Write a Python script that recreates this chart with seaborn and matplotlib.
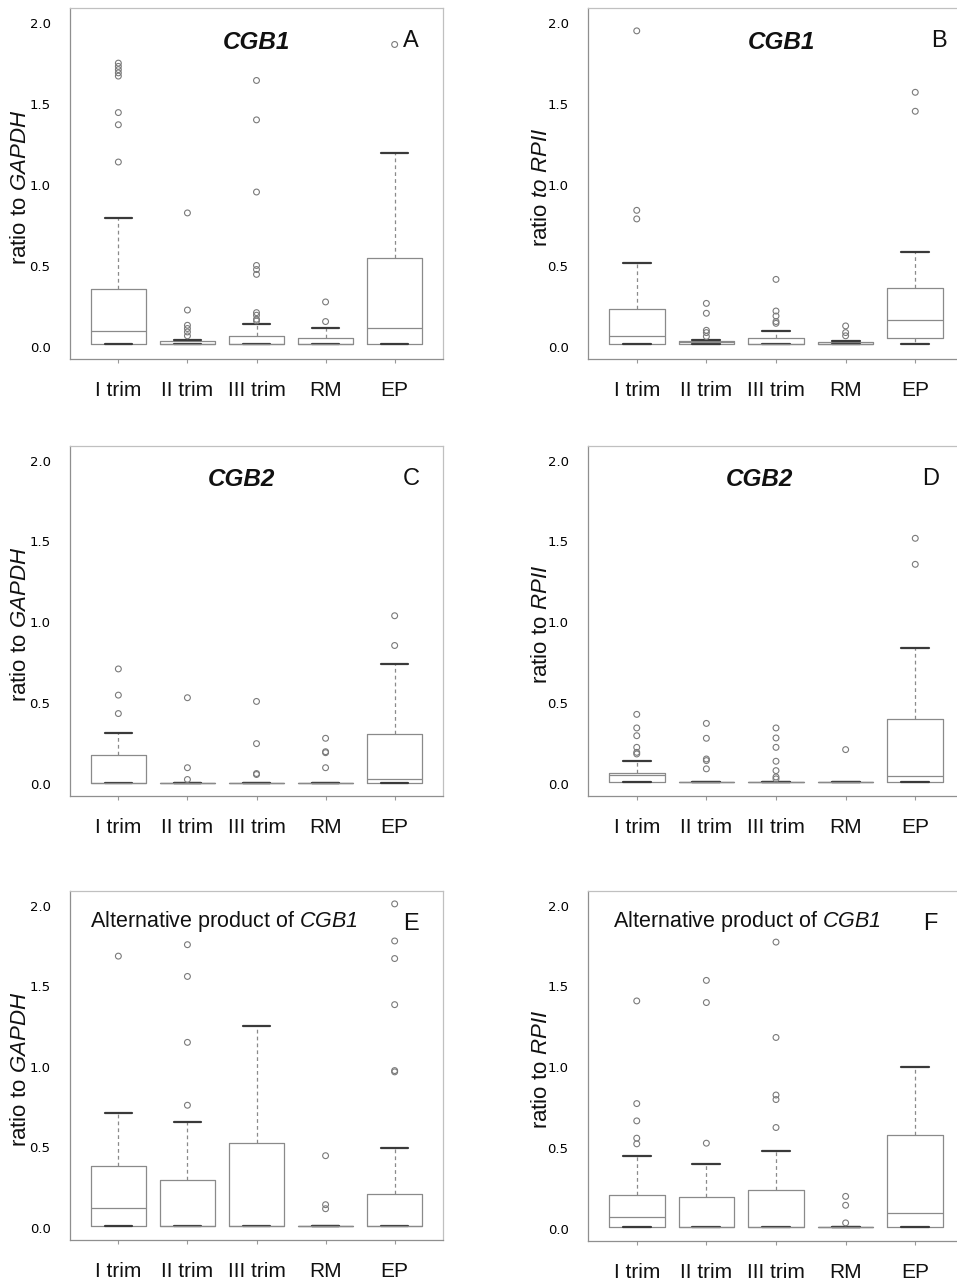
import numpy as np
import pandas as pd
import matplotlib
matplotlib.use("Agg")
import matplotlib.pyplot as plt
import seaborn as sns

groups = ["I trim", "II trim", "III trim", "RM", "EP"]

# five-number summaries per group: [lower whisker, Q1, median, Q3, upper whisker]
a_stats = [[0.015, 0.015, 0.10, 0.355, 0.795], [0.015, 0.015, 0.02, 0.033, 0.041],
           [0.015, 0.015, 0.02, 0.064, 0.143], [0.015, 0.015, 0.02, 0.057, 0.119],
           [0.015, 0.015, 0.119, 0.545, 1.195]]
a_out = [[1.75, 1.73, 1.71, 1.69, 1.67, 1.445, 1.37, 1.14],
         [0.826, 0.227, 0.133, 0.113, 0.092, 0.068],
         [1.643, 1.40, 0.955, 0.502, 0.477, 0.447, 0.211, 0.195, 0.17, 0.16],
         [0.277, 0.156],
         [1.865]]

b_stats = [[0.015, 0.015, 0.064, 0.236, 0.52], [0.015, 0.015, 0.027, 0.035, 0.04],
           [0.015, 0.015, 0.02, 0.057, 0.096], [0.015, 0.015, 0.018, 0.027, 0.033],
           [0.015, 0.057, 0.166, 0.363, 0.584]]
b_out = [[1.949, 0.842, 0.789],
         [0.268, 0.207, 0.102, 0.088, 0.064],
         [0.416, 0.221, 0.19, 0.156, 0.145],
         [0.129, 0.088, 0.068],
         [1.57, 1.453]]

c_stats = [[0.006, 0.006, 0.006, 0.18, 0.317], [0.006, 0.006, 0.006, 0.006, 0.006],
           [0.006, 0.006, 0.006, 0.006, 0.006], [0.006, 0.006, 0.006, 0.006, 0.006],
           [0.006, 0.006, 0.033, 0.307, 0.74]]
c_out = [[0.711, 0.549, 0.435],
         [0.533, 0.1, 0.027],
         [0.51, 0.249, 0.064, 0.058],
         [0.282, 0.199, 0.193, 0.1],
         [1.04, 0.856]]

d_stats = [[0.014, 0.014, 0.055, 0.066, 0.14], [0.014, 0.014, 0.014, 0.014, 0.014],
           [0.014, 0.014, 0.014, 0.014, 0.014], [0.014, 0.014, 0.014, 0.014, 0.014],
           [0.014, 0.014, 0.051, 0.401, 0.842]]
d_out = [[0.43, 0.346, 0.298, 0.226, 0.195, 0.185],
         [0.374, 0.282, 0.154, 0.144, 0.093],
         [0.346, 0.284, 0.226, 0.14, 0.082, 0.043, 0.031],
         [0.212],
         [1.519, 1.358]]

e_stats = [[0.012, 0.012, 0.123, 0.382, 0.715], [0.012, 0.012, 0.012, 0.296, 0.66],
           [0.012, 0.012, 0.012, 0.526, 1.254], [0.012, 0.012, 0.012, 0.012, 0.012],
           [0.012, 0.012, 0.012, 0.21, 0.495]]
e_out = [[1.686],
         [1.757, 1.56, 1.151, 0.761],
         [],
         [0.448, 0.144, 0.119],
         [2.01, 1.78, 1.671, 1.385, 0.976, 0.968]]

f_stats = [[0.012, 0.012, 0.076, 0.21, 0.45], [0.012, 0.012, 0.012, 0.195, 0.40],
           [0.012, 0.012, 0.012, 0.243, 0.479], [0.012, 0.012, 0.012, 0.012, 0.012],
           [0.012, 0.012, 0.099, 0.582, 0.999]]
f_out = [[1.41, 0.775, 0.668, 0.561, 0.526],
         [1.537, 1.40, 0.53],
         [1.774, 1.184, 0.828, 0.80, 0.627],
         [0.201, 0.146, 0.037],
         []]

sns.set_theme(style="white")
plt.rcParams['font.family'] = ['Liberation Sans', 'DejaVu Sans']
plt.rcParams['mathtext.fontset'] = 'custom'
# math parts of the labels are only the italic gene names (digits included)
plt.rcParams['mathtext.rm'] = 'Liberation Sans:italic'
plt.rcParams['mathtext.it'] = 'Liberation Sans:italic'

W, H = 957, 1283
fig = plt.figure(figsize=(W / 100, H / 100), dpi=100)


def long_df(values):
    rows = [(g, v) for g, vals in zip(groups, values) for v in vals]
    return pd.DataFrame(rows, columns=["group", "value"])


def panel(px, stats, outliers, ylabel, label_x, title, title_x, letter, letter_x, title_left=False):
    x0, y0, x1, y1 = px
    ax = fig.add_axes([x0 / W, 1 - y1 / H, (x1 - x0) / W, (y1 - y0) / H])
    box_df = long_df(stats)
    sns.boxplot(data=box_df, x="group", y="value", order=groups, whis=np.inf,
                width=0.8, fill=False, showfliers=False, ax=ax,
                boxprops=dict(color="#8a8a8a", linewidth=0.9),
                medianprops=dict(color="#8a8a8a", linewidth=0.9),
                whiskerprops=dict(color="#8a8a8a", linewidth=0.9, linestyle=(0, (3, 2.5))),
                capprops=dict(color="#3a3a3a", linewidth=1.6))
    out_df = long_df(outliers)
    sns.stripplot(data=out_df, x="group", y="value", order=groups, jitter=False,
                  size=4.2, color="#7a7a7a", facecolor="none", edgecolor="#7a7a7a",
                  linewidth=0.8, ax=ax)
    ax.set_xlim(-0.7, 4.7)
    ax.set_ylim(-0.075, 2.09)
    ax.set_yticks([0, 0.5, 1.0, 1.5, 2.0])
    ax.set_yticklabels(["0.0", "0.5", "1.0", "1.5", "2.0"], family="DejaVu Sans",
                       fontsize=9.5, color="#000000")
    ax.set_xticks(range(5))
    ax.set_xticklabels(groups, fontsize=15, color="#111111")
    ax.tick_params(axis="y", length=0, pad=14)
    ax.tick_params(axis="x", length=3, width=0.8, color="#999999", pad=13, bottom=True)
    ax.set_xlabel("")
    ax.set_ylabel(ylabel, fontsize=16, color="#111111")
    ax.yaxis.set_label_coords(label_x, 0.49)
    for side in ["top", "right"]:
        ax.spines[side].set_color("#c0c0c0")
    for side in ["left", "bottom"]:
        ax.spines[side].set_color("#8f8f8f")
    for s in ax.spines.values():
        s.set_linewidth(0.9)
        s.set_visible(True)
    if title_left:
        ax.text(title_x, 0.912, title, transform=ax.transAxes, ha="left", va="center",
                fontsize=15.5, color="#111111")
    else:
        ax.text(title_x, 0.903, title, transform=ax.transAxes, ha="center", va="center",
                fontsize=17.5, fontweight="bold", fontstyle="italic", color="#111111")
    ax.text(letter_x, 0.905, letter, transform=ax.transAxes, ha="center", va="center",
            fontsize=17, color="#111111")
    return ax


panel((70, 8, 443, 359), a_stats, a_out, r"ratio to $GAPDH$", -0.105,
      "CGB1", 0.5, "A", 0.914)
panel((588, 8, 964, 359), b_stats, b_out, r"ratio $to\ RPII$", -0.097,
      "CGB1", 0.515, "B", 0.933)
panel((70, 446, 443, 796), c_stats, c_out, r"ratio to $GAPDH$", -0.105,
      "CGB2", 0.46, "C", 0.916)
panel((588, 446, 964, 796), d_stats, d_out, r"ratio to $RPII$", -0.097,
      "CGB2", 0.457, "D", 0.91)
panel((70, 891, 443, 1240), e_stats, e_out, r"ratio to $GAPDH$", -0.105,
      r"Alternative product of $CGB1$", 0.054, "E", 0.914, title_left=True)
panel((588, 891, 964, 1241), f_stats, f_out, r"ratio to $RPII$", -0.097,
      r"Alternative product of $CGB1$", 0.066, "F", 0.91, title_left=True)

fig.savefig("out.png", dpi=100)
